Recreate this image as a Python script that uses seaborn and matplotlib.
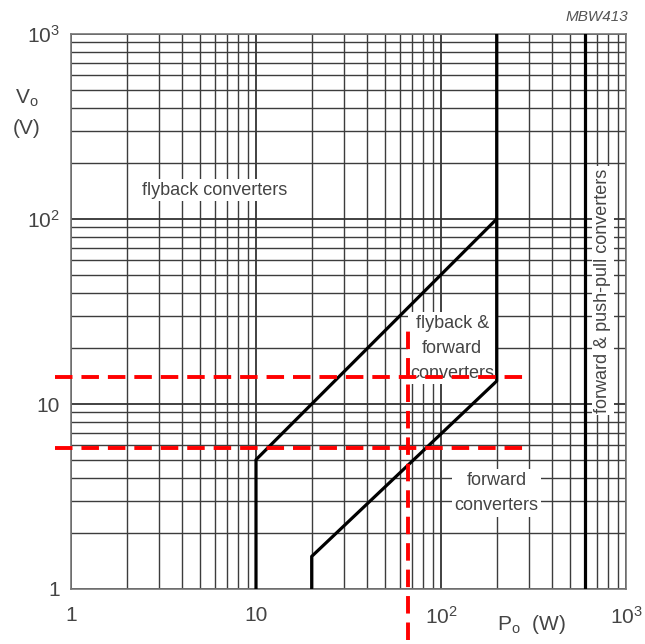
import matplotlib
matplotlib.use("Agg")
import matplotlib.pyplot as plt
import matplotlib.ticker as mticker
import seaborn as sns

# region boundaries (P_o in W, V_o in V)
upper_p = [10, 10, 200]
upper_v = [1, 5, 100]
lower_p = [20, 20, 200, 200]
lower_v = [1, 1.5, 13.3, 1000]
push_p = [600, 600]
push_v = [1, 1000]

# red dashed marker lines
red_h_levels = [14, 5.8]
red_h_span = [0.82, 300]
red_v_power = 66
red_v_span = [0.53, 25]

tick_vals = [1, 10, 100, 1000]
tick_text = ["1", "10", r"$\mathregular{10^2}$", r"$\mathregular{10^3}$"]

sns.set_style("white")
plt.rcParams["font.family"] = ["Liberation Sans", "DejaVu Sans"]
plt.rcParams["mathtext.fontset"] = "custom"
plt.rcParams["mathtext.rm"] = "Liberation Sans"
plt.rcParams["mathtext.it"] = "Liberation Sans:italic"

W, H = 645, 644
fig = plt.figure(figsize=(W / 100, H / 100), dpi=100)
ax = fig.add_axes([71 / W, (H - 589) / H, 555 / W, 555 / H])
ax.set_xscale("log")
ax.set_yscale("log")
ax.set_xlim(1, 1000)
ax.set_ylim(1, 1000)

# grid
ax.xaxis.set_major_locator(mticker.FixedLocator(tick_vals))
ax.yaxis.set_major_locator(mticker.FixedLocator(tick_vals))
ax.xaxis.set_minor_locator(mticker.LogLocator(base=10, subs=range(2, 10)))
ax.yaxis.set_minor_locator(mticker.LogLocator(base=10, subs=range(2, 10)))
ax.xaxis.set_minor_formatter(mticker.NullFormatter())
ax.yaxis.set_minor_formatter(mticker.NullFormatter())
ax.grid(which="major", color="#333333", lw=1.3, zorder=1)
ax.grid(which="minor", color="#3c3c3c", lw=1.0, zorder=1)
ax.set_axisbelow(True)

ax.xaxis.set_major_formatter(mticker.FixedFormatter(tick_text))
ax.yaxis.set_major_formatter(mticker.FixedFormatter(tick_text))
ax.tick_params(which="both", length=0, labelsize=15, labelcolor="#444444")
ax.tick_params(axis="x", pad=12)
ax.tick_params(axis="y", pad=8)
for s in ax.spines.values():
    s.set_color("#777777")
    s.set_linewidth(1.2)

# boundaries
kw = dict(sort=False, estimator=None, color="black", lw=2.3, ax=ax, zorder=4)
sns.lineplot(x=upper_p, y=upper_v, **kw)
sns.lineplot(x=lower_p, y=lower_v, **kw)
sns.lineplot(x=push_p, y=push_v, **kw)

# red dashed lines
for lv in red_h_levels:
    ax.plot(red_h_span, [lv, lv], color="red", lw=2.8, dashes=(4.5, 2.3),
            clip_on=False, zorder=6)
ax.plot([red_v_power, red_v_power], red_v_span, color="red", lw=2.8,
        dashes=(4.5, 2.3), clip_on=False, zorder=6)

# region labels
box = dict(facecolor="white", edgecolor="none", pad=2)
tkw = dict(fontsize=13, color="#444444", ha="center", va="center",
           bbox=box, zorder=3)
ax.text(6, 143, "flyback converters", **tkw)
ax.text(115, 20.0, "flyback &\nforward\nconverters", linespacing=1.6, **tkw)
ax.text(200, 3.3, "forward\nconverters", linespacing=1.65, **tkw)
ax.text(750, 41, "forward & push-pull converters", rotation=90, **tkw)

# axis titles
fig.text(497 / W, 1 - 625 / H, r"$\mathregular{P_o}$  (W)", fontsize=15,
         color="#444444", ha="left", va="center")
fig.text(15 / W, 1 - 98 / H, r"$\mathregular{V_o}$", fontsize=15,
         color="#444444", ha="left", va="center")
fig.text(13 / W, 1 - 128 / H, "(V)", fontsize=15,
         color="#444444", ha="left", va="center")
fig.text(628 / W, 1 - 17 / H, "MBW413", fontsize=11, style="italic",
         color="#555555", ha="right", va="center")

fig.savefig("out.png", dpi=100)
